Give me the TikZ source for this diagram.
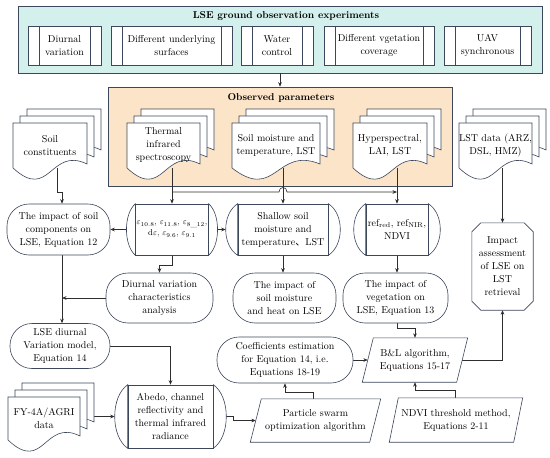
\documentclass[tikz,border=0pt]{standalone}
\usepackage{fontspec}
\newfontfamily\cjk{Noto Sans CJK SC}
\usetikzlibrary{arrows.meta}
\pgfdeclarelayer{bg}\pgfdeclarelayer{conn}\pgfdeclarelayer{shp}
\pgfsetlayers{bg,conn,shp,main}
\definecolor{lc}{HTML}{3D475C}
\definecolor{cl}{HTML}{2E2E2E}
\definecolor{cyanbg}{HTML}{D3F0EC}
\definecolor{orbg}{HTML}{FBE4C8}
\tikzset{
 txt/.style={align=center, font=\fontsize{10}{13}\selectfont, inner sep=1pt},
 ttl/.style={txt, font=\fontsize{10}{13}\selectfont\bfseries},
 box/.style={txt, draw=lc, fill=white, line width=0.6pt},
 pproc/.style={box, minimum height=39pt, path picture={\draw[lc, line width=0.6pt]
   ([xshift=11pt]path picture bounding box.north west) -- ([xshift=11pt]path picture bounding box.south west)
   ([xshift=-11pt]path picture bounding box.north east) -- ([xshift=-11pt]path picture bounding box.south east);}},
 term/.style={box, rounded corners=22pt},
 shp/.style={draw=lc, fill=white, line width=0.6pt},
 conn/.style={draw=cl, line width=0.6pt},
 arr/.style={conn, -{Stealth[length=4.5pt, width=3.6pt]}},
}
% one page of a document stack
\newcommand\docpage[4]{\draw[shp] ({#1},{#2}) -- ({#1+#3},{#2}) -- ({#1+#3},{#2+#4-4})
  .. controls ({#1+0.5*#3},{#2+#4-22}) and ({#1+0.5*#3},{#2+#4+34}) .. ({#1},{#2+#4}) -- cycle;}
% #1 name, #2 x, #3 y, #4 w, #5 h, #6 text
\newcommand\docstack[6]{%
 \docpage{#2+14}{#3-14}{#4}{#5}%
 \docpage{#2+7}{#3-7}{#4}{#5}%
 \docpage{#2}{#3}{#4}{#5}%
 \node[txt] (#1) at ({#2+#4/2},{#3+#5/2}) {#6};%
 \coordinate (#1-b) at ({#2+#4/2},{#3+#5});}
\newcommand\bulge[3]{\begin{pgfonlayer}{shp}
 \draw[shp] (#1.north west) .. controls +({-1.333*#2},{#3}) and +({-1.333*#2},{-#3}) .. (#1.south west) -- cycle;
 \draw[shp] (#1.north east) .. controls +({1.333*#2},{#3}) and +({1.333*#2},{-#3}) .. (#1.south east) -- cycle;
 \end{pgfonlayer}}
\newcommand\para[2]{\begin{pgfonlayer}{shp}
 \draw[shp] ([xshift=#2pt]#1.north west) -- ([xshift=#2pt]#1.north east) -- ([xshift=-#2pt]#1.south east) -- ([xshift=-#2pt]#1.south west) -- cycle;
 \end{pgfonlayer}}
\newcommand\octo[2]{\begin{pgfonlayer}{shp}
 \draw[shp] ([xshift=#2pt]#1.north west) -- ([xshift=-#2pt]#1.north east) -- ([yshift=-#2pt]#1.north east) -- ([yshift=#2pt]#1.south east) -- ([xshift=-#2pt]#1.south east) -- ([xshift=#2pt]#1.south west) -- ([yshift=#2pt]#1.south west) -- ([yshift=-#2pt]#1.north west) -- cycle;
 \end{pgfonlayer}}
\begin{document}
\begin{tikzpicture}[x=1pt,y=-1pt]
\useasboundingbox (0,0) rectangle (550,458);
\begin{pgfonlayer}{bg}
 \fill[white] (0,0) rectangle (550,458);
 \node[draw=lc, fill=cyanbg, line width=0.6pt, minimum width=524pt, minimum height=67pt, inner sep=0pt] (topbox) at (280,39.5) {};
 \node[ttl] (toptitle) at (286,16) {LSE ground observation experiments};
 \node[draw=lc, fill=orbg, line width=0.6pt, minimum width=344pt, minimum height=99pt, inner sep=0pt] (obsbox) at (280,136.5) {};
 \node[ttl] (obstitle) at (281,97.5) {Observed parameters};
\end{pgfonlayer}
% experiments
\node[pproc, minimum width=73pt] (diur) at (64.5,45.5) {Diurnal\\variation};
\node[pproc, minimum width=121pt] (diff) at (171.5,45.5) {Different underlying\\surfaces};
\node[pproc, minimum width=72pt] (water) at (277,45.5) {Water\\control};
\node[pproc, minimum width=110pt] (veg) at (379,45.5) {Different vgetation\\coverage};
\node[pproc, minimum width=87pt] (uav) at (487.5,45.5) {UAV\\synchronous};
% document stacks
\docstack{soilc}{13}{123}{74}{45}{Soil\\constituents}
\docstack{tirs}{127}{123}{73}{45}{Thermal\\infrared\\spectroscopy}
\docstack{smt}{232}{123}{88}{45}{Soil moisture and\\temperature, LST}
\docstack{hyp}{353}{123}{74}{45}{Hyperspectral,\\LAI, LST}
\docstack{lstd}{459}{123}{73}{45}{LST data (ARZ,\\DSL, HMZ)}
\docstack{fy}{8}{397}{72}{43}{FY-4A/AGRI\\data}
% row 2
\node[term, minimum width=103pt, minimum height=51pt] (impsoil) at (58.5,229.5) {The impact of soil\\components on\\LSE, Equation 12};
\node[box, minimum width=62pt, minimum height=51pt, font=\fontsize{8.5}{11}\selectfont] (eps) at (172,229.5)
 {$\varepsilon_{10.8}$, $\varepsilon_{11.8}$, $\varepsilon_{8\_12}$,\\d$\varepsilon$, $\varepsilon_{9.6}$, $\varepsilon_{9.1}$};
\bulge{eps}{9}{10}
\node[box, minimum width=90pt, minimum height=51pt] (shallow) at (283,229.5) {Shallow soil\\moisture and\\temperature{\cjk 、}LST};
\bulge{shallow}{12}{10}
\node[box, minimum width=62pt, minimum height=51pt] (refn) at (397,229.5) {ref$_{\mathrm{red}}$, ref$_{\mathrm{NIR}}$,\\NDVI};
\bulge{refn}{12}{10}
% row 3
\node[term, minimum width=107pt, minimum height=50pt] (diurnal) at (159.5,298) {Diurnal variation\\characteristics\\analysis};
\node[term, minimum width=103pt, minimum height=50pt] (impmoist) at (284.5,298) {The impact of\\soil moisture\\and heat on LSE};
\node[term, minimum width=105pt, minimum height=50pt] (impveg) at (395.5,298) {The impact of\\vegetation on\\LSE, Equation 13};
\node[txt, minimum width=61pt, minimum height=87pt] (impass) at (502.5,266.5) {Impact\\assessment\\of LSE on\\LST\\retrieval};
\octo{impass}{9}
% row 4
\node[term, minimum width=100pt, minimum height=45pt] (lsemodel) at (60,346) {LSE diurnal\\Variation model,\\Equation 14};
\node[term, minimum width=136pt, minimum height=46pt] (coef) at (285,360) {Coefficients estimation\\for Equation 14, i.e.\\Equations 18-19};
\node[txt, minimum width=94pt, minimum height=44pt] (bl) at (415,360) {B\&L algorithm,\\Equations 15-17};
\para{bl}{5.5}
% row 5
\node[box, minimum width=85pt, minimum height=63pt] (abedo) at (170.5,416.5) {Abedo, channel\\reflectivity and\\thermal infrared\\radiance};
\bulge{abedo}{13}{12}
\node[txt, minimum width=119pt, minimum height=43pt] (pso) at (315.5,420.5) {Particle swarm\\optimization algorithm};
\para{pso}{5.5}
\node[txt, minimum width=124pt, minimum height=44pt] (ndvi) at (456,420) {NDVI threshold method,\\Equations 2-11};
\para{ndvi}{4.5}
% connectors
\begin{pgfonlayer}{conn}
 \coordinate (hop) at (283,192);
 \draw[arr] (topbox.south) -- (obsbox.north);
 \draw[arr] ([xshift=7pt]soilc-b) -- ++(0,24) -| ([xshift=3.5pt]impsoil.north);
 \draw[arr] (eps.north |- tirs-b) -- (eps.north);
 \draw[arr] (eps.north |- hop) -- ([xshift=-4pt]hop) .. controls ([xshift=-4pt,yshift=6pt]hop) and ([xshift=4pt,yshift=6pt]hop) .. ([xshift=4pt]hop) -- (refn.north |- hop);
 \draw[arr] (shallow.north |- smt-b) -- (shallow.north);
 \draw[arr] (refn.north |- hyp-b) -- (refn.north);
 \draw[arr] (impass.north |- lstd-b) -- (impass.north);
 \draw[arr] ([xshift=-9pt]eps.west) -- (impsoil.east);
 \draw[arr] ([xshift=9pt]eps.east) -- ([xshift=-12pt]shallow.west);
 \draw[arr] (eps.south) -- ++(0,10) -| (diurnal.north);
 \draw[arr] ([xshift=3.5pt]impsoil.south) -- ([xshift=3.5pt]impsoil.south |- lsemodel.north);
 \draw[arr] (diurnal.west) -- ([xshift=3.5pt]impsoil.south |- diurnal.west);
 \draw[arr] (shallow.south) -- (shallow.south |- impmoist.north);
 \draw[arr] (refn.south) -- (refn.south |- impveg.north);
 \draw[arr] (refn.south |- impveg.south) -- ++(0,5) -| (bl.north);
 \draw[arr] (lsemodel.east) -| (abedo.north);
 \draw[arr] (fy.east |- abedo.west) -- ([xshift=-13pt]abedo.west);
 \draw[arr] ([xshift=13pt]abedo.east) -- ++(7,0) |- (pso.west);
 \draw[arr] ([xshift=-2.5pt]pso.north) -- ++(0,-7) -| (coef.south);
 \draw[arr] (coef.east) -- (bl.west);
 \draw[arr] ([xshift=-1pt]ndvi.north) -- ++(0,-8) -| (bl.south);
 \draw[arr] (bl.east) -| (impass.south);
\end{pgfonlayer}
\end{tikzpicture}
\end{document}
